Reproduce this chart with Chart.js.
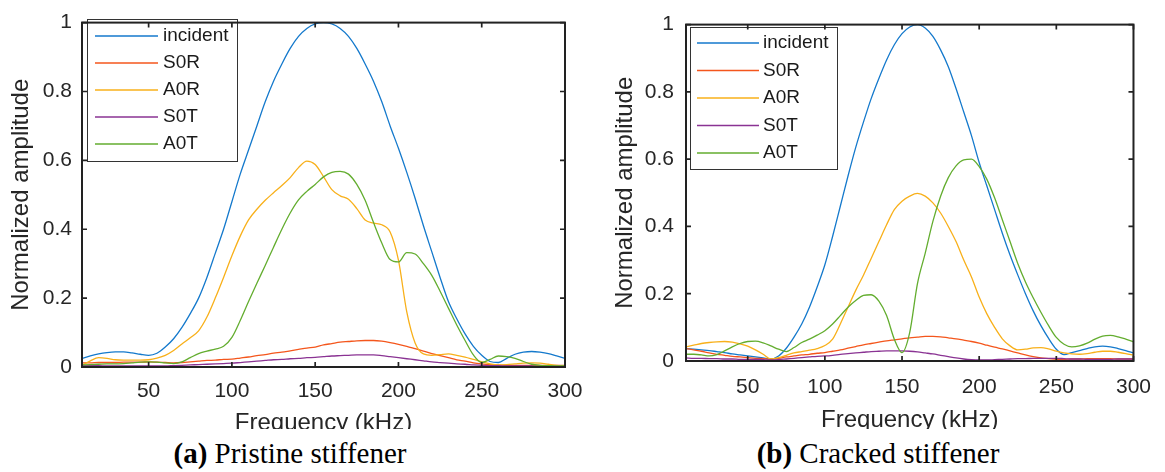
<!DOCTYPE html>
<html>
<head>
<meta charset="utf-8">
<script src="https://cdn.jsdelivr.net/npm/chart.js@4"></script>
<style>
  body { margin: 0; background: #fff; }
  #pagina { position: relative; width: 1165px; height: 472px; overflow: hidden; background: #fff; }
  canvas { position: absolute; top: 0; }
  #faixa { position: absolute; left: 0; top: 429px; width: 1165px; height: 43px; background: #fff; }
  .legenda { position: absolute; top: 439px; width: 400px; text-align: center; font-family: "Liberation Serif", "Times New Roman", serif; font-size: 29px; line-height: 29px; color: #000; }
</style>
</head>
<body>
<div id="pagina">
  <canvas id="grafico-intacto" width="600" height="440" style="left:0"></canvas>
  <canvas id="grafico-trincado" width="565" height="440" style="left:600px"></canvas>
  <div id="faixa"></div>
  <div class="legenda" style="left:90px"><b>(a)</b> Pristine stiffener</div>
  <div class="legenda" style="left:678px"><b>(b)</b> Cracked stiffener</div>
</div>
<script>
// Frequências (kHz), iguais nas duas figuras
var frequencias = [
  10, 15, 20, 25, 30, 35, 40, 45, 50, 55,
  60, 65, 70, 75, 80, 85, 90, 95, 100, 105,
  110, 115, 120, 125, 130, 135, 140, 145, 150, 155,
  160, 165, 170, 175, 180, 185, 190, 195, 200, 205,
  210, 215, 220, 225, 230, 235, 240, 245, 250, 255,
  260, 265, 270, 275, 280, 285, 290, 295, 300
];
var rotulosX = [50, 100, 150, 200, 250, 300];
var rotulosY = [0, 0.2, 0.4, 0.6, 0.8, 1];
var nomesSeries = ["incident", "S0R", "A0R", "S0T", "A0T"];
var coresSeries = ["#1479cc", "#f4561c", "#f8b01a", "#8a3393", "#63ad2f"];

// (a) enrijecedor intacto
var intactoIncident = [
  0.025, 0.032, 0.038, 0.042, 0.044, 0.044, 0.041, 0.037, 0.034, 0.040,
  0.058, 0.082, 0.115, 0.155, 0.20, 0.26, 0.33, 0.40, 0.48, 0.56,
  0.63, 0.70, 0.77, 0.83, 0.88, 0.925, 0.96, 0.983, 0.996, 1.0,
  0.996, 0.983, 0.96, 0.925, 0.88, 0.83, 0.77, 0.70, 0.635, 0.565,
  0.49, 0.41, 0.335, 0.26, 0.19, 0.14, 0.096, 0.06, 0.034, 0.016,
  0.013, 0.025, 0.037, 0.043, 0.045, 0.043, 0.039, 0.032, 0.025
];
var intactoS0R = [
  0.012, 0.012, 0.013, 0.013, 0.013, 0.014, 0.014, 0.014, 0.015, 0.014,
  0.013, 0.012, 0.013, 0.015, 0.017, 0.019, 0.020, 0.022, 0.023, 0.026,
  0.029, 0.033, 0.036, 0.040, 0.043, 0.047, 0.051, 0.055, 0.058, 0.064,
  0.068, 0.072, 0.074, 0.076, 0.077, 0.077, 0.075, 0.071, 0.066, 0.060,
  0.053, 0.046, 0.039, 0.033, 0.027, 0.021, 0.017, 0.012, 0.009, 0.007,
  0.006, 0.005, 0.005, 0.005, 0.005, 0.005, 0.005, 0.005, 0.005
];
var intactoA0R = [
  0.005, 0.018, 0.027, 0.025, 0.021, 0.020, 0.020, 0.020, 0.021, 0.026,
  0.034, 0.048, 0.067, 0.085, 0.105, 0.145, 0.20, 0.26, 0.323, 0.38,
  0.427, 0.458, 0.484, 0.506, 0.527, 0.55, 0.579, 0.598, 0.588, 0.553,
  0.515, 0.497, 0.487, 0.46, 0.427, 0.418, 0.413, 0.392, 0.31, 0.16,
  0.07, 0.038, 0.034, 0.036, 0.038, 0.034, 0.029, 0.022, 0.015, 0.009,
  0.006, 0.007, 0.009, 0.011, 0.012, 0.011, 0.008, 0.005, 0.003
];
var intactoS0T = [
  0.004, 0.004, 0.004, 0.003, 0.003, 0.003, 0.003, 0.003, 0.003, 0.003,
  0.003, 0.004, 0.005, 0.006, 0.007, 0.008, 0.009, 0.010, 0.011, 0.013,
  0.015, 0.017, 0.019, 0.021, 0.022, 0.024, 0.025, 0.027, 0.028, 0.030,
  0.032, 0.033, 0.034, 0.035, 0.035, 0.035, 0.033, 0.030, 0.027, 0.024,
  0.021, 0.018, 0.015, 0.013, 0.011, 0.009, 0.008, 0.006, 0.005, 0.004,
  0.004, 0.003, 0.003, 0.003, 0.003, 0.002, 0.002, 0.002, 0.002
];
var intactoA0T = [
  0.006, 0.007, 0.008, 0.009, 0.009, 0.010, 0.012, 0.014, 0.015, 0.014,
  0.012, 0.010, 0.015, 0.027, 0.039, 0.046, 0.052, 0.060, 0.086, 0.135,
  0.19, 0.243, 0.295, 0.348, 0.40, 0.447, 0.485, 0.51, 0.53, 0.552,
  0.565, 0.568, 0.56, 0.53, 0.484, 0.42, 0.36, 0.312, 0.305, 0.332,
  0.328, 0.30, 0.266, 0.22, 0.171, 0.122, 0.077, 0.035, 0.013, 0.022,
  0.032, 0.03, 0.025, 0.016, 0.008, 0.005, 0.004, 0.003, 0.003
];

// (b) enrijecedor trincado
var trincadoIncident = [
  0.037, 0.035, 0.033, 0.031, 0.028, 0.025, 0.021, 0.018, 0.015, 0.012,
  0.009, 0.006, 0.015, 0.038, 0.071, 0.11, 0.16, 0.22, 0.286, 0.37,
  0.46, 0.55, 0.635, 0.71, 0.78, 0.84, 0.895, 0.94, 0.973, 0.993,
  1.0, 0.99, 0.965, 0.925, 0.875, 0.81, 0.74, 0.67, 0.59, 0.52,
  0.45, 0.38, 0.315, 0.256, 0.2, 0.149, 0.105, 0.067, 0.035, 0.019,
  0.025, 0.031, 0.037, 0.042, 0.044, 0.042, 0.037, 0.031, 0.024
];
var trincadoS0R = [
  0.037, 0.033, 0.029, 0.024, 0.020, 0.017, 0.014, 0.012, 0.010, 0.008,
  0.007, 0.005, 0.008, 0.012, 0.015, 0.018, 0.020, 0.023, 0.025, 0.029,
  0.033, 0.038, 0.043, 0.048, 0.052, 0.056, 0.060, 0.063, 0.066, 0.069,
  0.071, 0.073, 0.073, 0.072, 0.069, 0.066, 0.062, 0.058, 0.053, 0.047,
  0.041, 0.036, 0.030, 0.024, 0.018, 0.013, 0.009, 0.007, 0.005, 0.005,
  0.006, 0.006, 0.007, 0.007, 0.007, 0.007, 0.006, 0.006, 0.006
];
var trincadoA0R = [
  0.042, 0.047, 0.052, 0.055, 0.057, 0.058, 0.056, 0.051, 0.044, 0.033,
  0.020, 0.006, 0.010, 0.017, 0.024, 0.028, 0.032, 0.037, 0.046, 0.065,
  0.11, 0.16, 0.21, 0.255, 0.305, 0.355, 0.405, 0.45, 0.475, 0.49,
  0.498, 0.49, 0.47, 0.44, 0.40, 0.355, 0.30, 0.25, 0.19, 0.14,
  0.10, 0.066, 0.045, 0.033, 0.035, 0.039, 0.040, 0.036, 0.029, 0.024,
  0.021, 0.020, 0.022, 0.026, 0.029, 0.029, 0.026, 0.022, 0.017
];
var trincadoS0T = [
  0.009, 0.008, 0.008, 0.007, 0.007, 0.006, 0.006, 0.005, 0.005, 0.005,
  0.004, 0.003, 0.004, 0.006, 0.008, 0.010, 0.012, 0.014, 0.015, 0.017,
  0.020, 0.022, 0.024, 0.026, 0.028, 0.029, 0.030, 0.030, 0.030, 0.029,
  0.027, 0.024, 0.021, 0.017, 0.013, 0.009, 0.006, 0.004, 0.003, 0.003,
  0.004, 0.005, 0.006, 0.007, 0.007, 0.008, 0.008, 0.008, 0.008, 0.007,
  0.006, 0.006, 0.005, 0.005, 0.005, 0.005, 0.006, 0.006, 0.006
];
var trincadoA0T = [
  0.02, 0.02, 0.018, 0.015, 0.019, 0.03, 0.042, 0.052, 0.058, 0.059,
  0.054, 0.045, 0.035, 0.028, 0.04, 0.055, 0.065, 0.077, 0.09, 0.11,
  0.135, 0.16, 0.18, 0.195, 0.197, 0.178, 0.135, 0.065, 0.025, 0.085,
  0.23, 0.32, 0.415, 0.49, 0.545, 0.58, 0.598, 0.6, 0.578, 0.54,
  0.485, 0.42, 0.355, 0.29, 0.235, 0.188, 0.145, 0.105, 0.07, 0.05,
  0.042, 0.045, 0.053, 0.065, 0.074, 0.076, 0.072, 0.065, 0.057
];

Chart.defaults.font.family = "'Liberation Sans', Arial, sans-serif";
Chart.defaults.color = "#262626";

// Moldura do eixo com marcas para dentro (estilo MATLAB)
var pluginMoldura = {
  id: "moldura",
  afterDraw: function (chart) {
    var a = chart.chartArea;
    var ctx = chart.ctx;
    var sx = chart.scales.x;
    var sy = chart.scales.y;
    var marca = 5;
    ctx.save();
    ctx.strokeStyle = "#222";
    ctx.lineWidth = 1.7;
    ctx.beginPath();
    rotulosX.forEach(function (v) {
      var px = sx.getPixelForValue(v);
      ctx.moveTo(px, a.bottom); ctx.lineTo(px, a.bottom - marca);
      ctx.moveTo(px, a.top); ctx.lineTo(px, a.top + marca);
    });
    rotulosY.forEach(function (v) {
      var py = sy.getPixelForValue(v);
      ctx.moveTo(a.left, py); ctx.lineTo(a.left + marca, py);
      ctx.moveTo(a.right, py); ctx.lineTo(a.right - marca, py);
    });
    ctx.stroke();
    ctx.lineWidth = 2;
    ctx.strokeRect(a.left, a.top, a.right - a.left, a.bottom - a.top);
    ctx.restore();
  }
};

// Legenda em caixa dentro da área do gráfico
var pluginLegenda = {
  id: "legendaCaixa",
  afterDatasetsDraw: function (chart, args, opts) {
    var ctx = chart.ctx;
    ctx.save();
    ctx.fillStyle = "#fff";
    ctx.fillRect(opts.x, opts.y, opts.w, opts.h);
    ctx.strokeStyle = "#333";
    ctx.lineWidth = 1;
    ctx.strokeRect(opts.x + 0.5, opts.y + 0.5, opts.w, opts.h);
    ctx.font = "19px 'Liberation Sans', Arial, sans-serif";
    ctx.textBaseline = "middle";
    chart.data.datasets.forEach(function (ds, i) {
      var y = opts.linha0 + i * opts.passo;
      ctx.strokeStyle = ds.borderColor;
      ctx.lineWidth = 1.4;
      ctx.beginPath();
      ctx.moveTo(opts.x1, y);
      ctx.lineTo(opts.x2, y);
      ctx.stroke();
      ctx.fillStyle = "#1a1a1a";
      ctx.fillText(ds.label, opts.textoX, y);
    });
    ctx.restore();
  }
};

function montarDatasets(series) {
  return series.map(function (valores, i) {
    return {
      label: nomesSeries[i],
      data: valores.map(function (v, j) { return { x: frequencias[j], y: v }; }),
      borderColor: coresSeries[i],
      borderWidth: 1.3,
      pointRadius: 0,
      fill: false,
      cubicInterpolationMode: "monotone",
      order: series.length - i
    };
  });
}

function criarGrafico(id, series, geo) {
  var ctx = document.getElementById(id).getContext("2d");
  return new Chart(ctx, {
    type: "line",
    data: { datasets: montarDatasets(series) },
    plugins: [pluginLegenda, pluginMoldura],
    options: {
      responsive: false,
      animation: false,
      devicePixelRatio: 1,
      layout: { padding: { left: 0, top: geo.topo, right: geo.direita, bottom: 0 } },
      plugins: {
        legend: { display: false },
        tooltip: { enabled: false },
        legendaCaixa: geo.legenda
      },
      scales: {
        x: {
          type: "linear",
          min: 10,
          max: 300,
          grid: { display: false, drawTicks: false },
          border: { display: false },
          afterBuildTicks: function (s) {
            s.ticks = rotulosX.map(function (v) { return { value: v }; });
          },
          afterFit: function (s) { s.height = geo.alturaX; },
          ticks: {
            padding: geo.padX,
            font: { size: 21 },
            maxRotation: 0,
            autoSkip: false,
            callback: function (v) { return String(v); }
          },
          title: {
            display: true,
            text: "Frequency (kHz)",
            font: { size: 24 },
            padding: { top: 0, bottom: geo.tituloX }
          }
        },
        y: {
          min: 0,
          max: 1,
          grid: { display: false, drawTicks: false },
          border: { display: false },
          afterBuildTicks: function (s) {
            s.ticks = rotulosY.map(function (v) { return { value: v }; });
          },
          afterFit: function (s) { s.width = geo.larguraY; },
          ticks: {
            padding: geo.padY,
            font: { size: 21 },
            callback: function (v) { return String(v); }
          },
          title: {
            display: true,
            text: "Normalized amplitude",
            font: { size: 24 },
            padding: { top: geo.tituloY, bottom: 0 }
          }
        }
      }
    }
  });
}

criarGrafico("grafico-intacto",
  [intactoIncident, intactoS0R, intactoA0R, intactoS0T, intactoA0T],
  {
    topo: 15, direita: 35, alturaX: 73, larguraY: 82,
    padX: 12, padY: 10, tituloX: 2, tituloY: 7,
    legenda: { x: 87, y: 19, w: 150, h: 142, x1: 95, x2: 158, textoX: 163, linha0: 36, passo: 27 }
  });

criarGrafico("grafico-trincado",
  [trincadoIncident, trincadoS0R, trincadoA0R, trincadoS0T, trincadoA0T],
  {
    topo: 19, direita: 25, alturaX: 79, larguraY: 86,
    padX: 14, padY: 12, tituloX: 5, tituloY: 11,
    legenda: { x: 90, y: 27, w: 147, h: 142, x1: 97, x2: 159, textoX: 163, linha0: 43, passo: 27.5 }
  });
</script>
</body>
</html>
